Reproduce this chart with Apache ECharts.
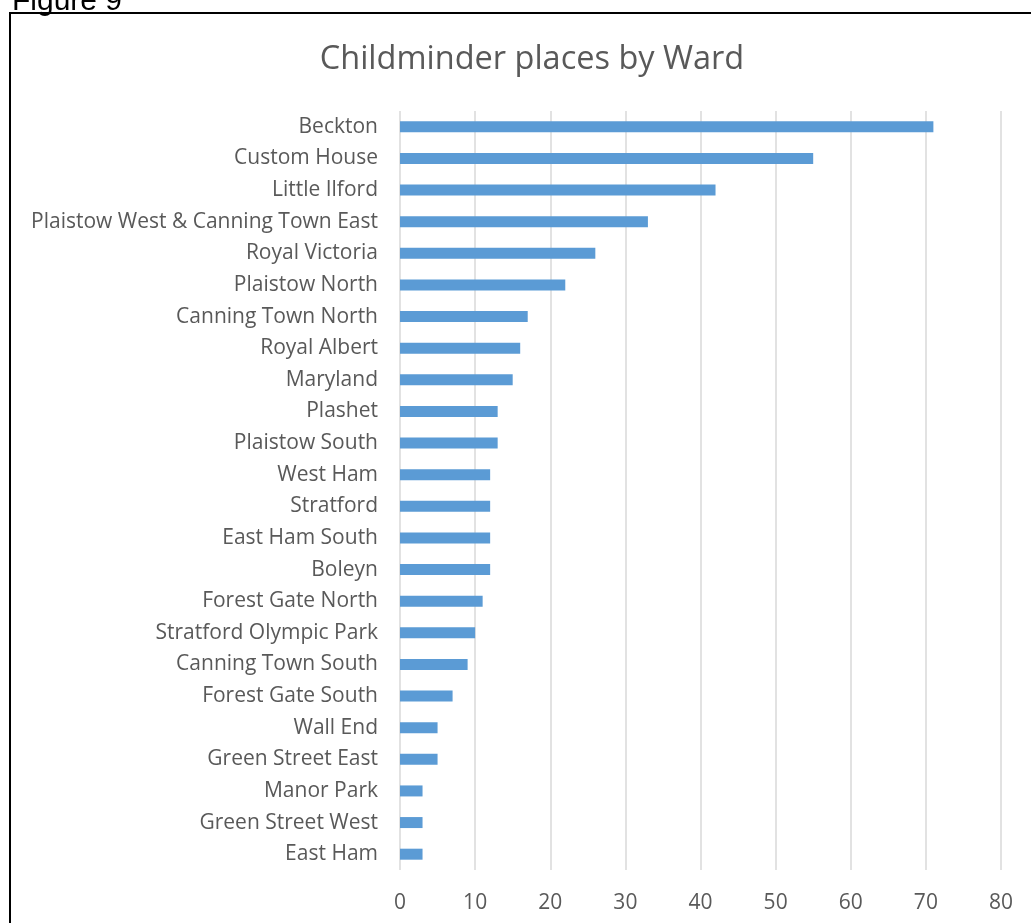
<!DOCTYPE html>
<html>
<head>
<meta charset="utf-8">
<style>
  html, body { margin: 0; padding: 0; background: #fff; }
  #chart { width: 1031px; height: 923px; }
</style>
<script src="https://cdn.jsdelivr.net/npm/echarts@6/dist/echarts.min.js"></script>
</head>
<body>
<div id="chart"></div>
<script>
// Childminder places per ward, largest first
const wards = [
  'Beckton', 'Custom House', 'Little Ilford', 'Plaistow West & Canning Town East',
  'Royal Victoria', 'Plaistow North', 'Canning Town North', 'Royal Albert',
  'Maryland', 'Plashet', 'Plaistow South', 'West Ham', 'Stratford',
  'East Ham South', 'Boleyn', 'Forest Gate North', 'Stratford Olympic Park',
  'Canning Town South', 'Forest Gate South', 'Wall End', 'Green Street East',
  'Manor Park', 'Green Street West', 'East Ham'
];
const places = [71, 55, 42, 33, 26, 22, 17, 16, 15, 13, 13, 12, 12, 12, 12, 11, 10, 9, 7, 5, 5, 3, 3, 3];
const xTicks = { min: 0, max: 80, interval: 10 };

const chart = echarts.init(document.getElementById('chart'));
const font = '"Open Sans", Lato, sans-serif';

chart.setOption({
  backgroundColor: '#fff',
  animation: false,
  title: {
    text: 'Childminder places by Ward',
    left: 527,
    textAlign: 'center',
    top: 38,
    textStyle: { fontFamily: font, fontSize: 32.5, fontWeight: 'normal', color: '#595959' }
  },
  graphic: [
    {
      type: 'rect',
      shape: { x: 10, y: 13, width: 1100, height: 1000 },
      style: { fill: 'none', stroke: '#000', lineWidth: 2 }
    },
    {
      type: 'text',
      x: 12, y: 17,
      style: {
        text: 'Figure 9',
        font: '30px "Liberation Sans", Arial, sans-serif',
        fill: '#000',
        verticalAlign: 'bottom'
      }
    }
  ],
  grid: { left: 400, right: 30, top: 111, bottom: 53, containLabel: false },
  xAxis: {
    type: 'value',
    min: xTicks.min, max: xTicks.max, interval: xTicks.interval,
    axisLine: { show: false },
    axisTick: { show: false },
    axisLabel: { fontFamily: font, fontSize: 21, color: '#595959', margin: 23 },
    splitLine: { lineStyle: { color: '#d9d9d9', width: 1.5 } }
  },
  yAxis: {
    type: 'category',
    inverse: true,
    data: wards,
    axisLine: { show: false },
    axisTick: { show: false },
    axisLabel: { fontFamily: font, fontSize: 21, color: '#595959', margin: 22, padding: [7, 0, 0, 0] }
  },
  series: [{
    type: 'bar',
    data: places,
    barWidth: 11,
    itemStyle: { color: '#5b9bd5' }
  }]
});
</script>
</body>
</html>
